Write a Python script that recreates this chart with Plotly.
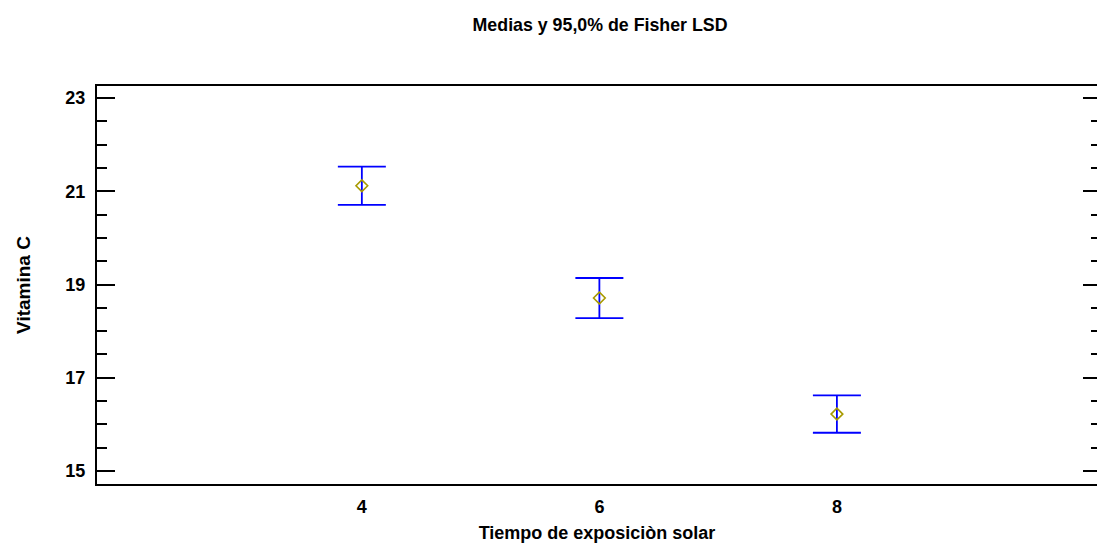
import plotly.graph_objects as go

# Sun exposure time groups and vitamin C means with 95% Fisher LSD intervals
tiempo = [4, 6, 8]
media = [21.12, 18.71, 16.22]
lsd_mitad = [0.41, 0.43, 0.40]

x_ticks = [4, 6, 8]
y_ticks = [15, 17, 19, 21, 23]

FONT = "Liberation Sans"

fig = go.Figure()
fig.add_trace(go.Scatter(
    x=tiempo,
    y=media,
    mode="markers",
    marker=dict(symbol="diamond-open", size=9, color="#a89a00",
                line=dict(width=1.6, color="#a89a00")),
    error_y=dict(type="data", array=lsd_mitad, visible=True,
                 color="#0000ff", thickness=1.8, width=24),
    showlegend=False,
))
# invisible trace carrying the right-hand tick axis
fig.add_trace(go.Scatter(x=[tiempo[0]], y=[media[0]], yaxis="y2",
                         mode="markers", marker=dict(opacity=0),
                         showlegend=False, hoverinfo="skip"))

fig.update_layout(
    width=1097, height=549,
    margin=dict(l=97, r=0, t=86, b=65),
    paper_bgcolor="white", plot_bgcolor="white",
    title=dict(text="Medias y 95,0% de Fisher LSD", x=0.547, xanchor="center",
               y=0.955, yanchor="middle",
               font=dict(family=FONT, size=17.8, color="black", weight="bold")),
    xaxis=dict(range=[1.77, 10.19], tickvals=x_ticks, ticks="",
               ticklabelstandoff=5,
               showline=True, linecolor="black", linewidth=2, mirror=True,
               showgrid=False, zeroline=False,
               tickfont=dict(family=FONT, size=18, color="black", weight="bold"),
               title=dict(text="Tiempo de exposiciòn solar", standoff=11,
                          font=dict(family=FONT, size=18, color="black", weight="bold"))),
    yaxis=dict(range=[14.72, 23.26], tickvals=y_ticks, ticks="inside",
               ticklen=18, tickwidth=2, tickcolor="black",
               ticklabelstandoff=6,
               minor=dict(dtick=0.5, ticks="inside", ticklen=10, tickwidth=2, tickcolor="black"),
               showline=True, linecolor="black", linewidth=2,
               showgrid=False, zeroline=False,
               tickfont=dict(family=FONT, size=18, color="black", weight="bold"),
               title=dict(text="Vitamina C", standoff=30,
                          font=dict(family=FONT, size=19, color="black", weight="bold"))),
    yaxis2=dict(range=[14.72, 23.26], overlaying="y", side="right",
                tickvals=y_ticks, ticks="inside", ticklen=14, tickwidth=2,
                tickcolor="black", showticklabels=False,
                minor=dict(dtick=0.5, ticks="inside", ticklen=6, tickwidth=2, tickcolor="black"),
                showline=False, showgrid=False, zeroline=False),
)

fig.write_html("out.html")
